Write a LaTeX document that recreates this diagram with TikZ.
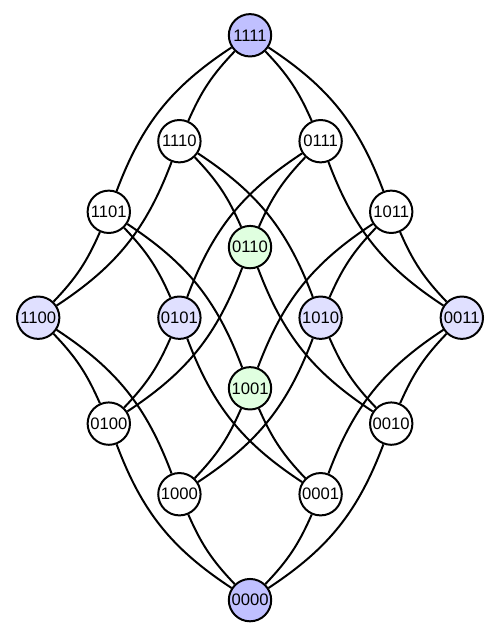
\documentclass[tikz,border=0pt]{standalone}
\usepackage{fontspec}
\setmainfont{Liberation Sans}
\definecolor{deep}{HTML}{C0C0FF}
\definecolor{pale}{HTML}{E0E0FF}
\definecolor{mint}{HTML}{E0FFE0}
\begin{document}
\begin{tikzpicture}[
    vertex/.style={circle, draw, line width=0.8pt, minimum size=0.6cm, inner sep=0pt,
                   font=\fontsize{6.7}{8}\selectfont},
    edge/.style={line width=0.8pt}]
    \useasboundingbox (-3.541,-4.508) rectangle (3.541,4.5);
    % vertices, rank 4 at the top down to rank 0
    \foreach \n/\x/\y/\c in {1111/0/4/deep, 1110/-1/2.5/white, 0111/1/2.5/white,
        1101/-2/1.5/white, 1011/2/1.5/white, 0110/0/1/mint,
        1100/-3/0/pale, 0101/-1/0/pale, 1010/1/0/pale, 0011/3/0/pale,
        1001/0/-1/mint, 0100/-2/-1.5/white, 0010/2/-1.5/white,
        1000/-1/-2.5/white, 0001/1/-2.5/white, 0000/0/-4/deep}
        \node [vertex, fill=\c] (v\n) at (\x,\y) {\n};
    % short edges
    \foreach \a/\b/\ang in {1111/1110/-10, 1111/0111/10, 1000/0000/-10, 0001/0000/10,
        1101/1100/10, 1011/0011/-10, 1100/0100/10, 0011/0010/-10,
        1110/0110/10, 0111/0110/-10, 1001/1000/10, 1001/0001/-10,
        1101/0101/10, 1011/1010/-10, 0101/0100/10, 1010/0010/-10}
        \draw [edge] (v\a) to [bend left=\ang] (v\b);
    % long edges
    \foreach \a/\b/\ang in {1111/1101/-18, 1111/1011/18, 0100/0000/-18, 0010/0000/18,
        1110/1100/18, 0111/0011/-18, 1100/1000/18, 0011/0001/-18,
        1110/1010/18, 0111/0101/-18, 1010/1000/18, 0101/0001/-18,
        1101/1001/18, 1011/1001/-18, 0110/0100/18, 0110/0010/-18}
        \draw [edge] (v\a) to [bend left=\ang] (v\b);
\end{tikzpicture}
\end{document}
